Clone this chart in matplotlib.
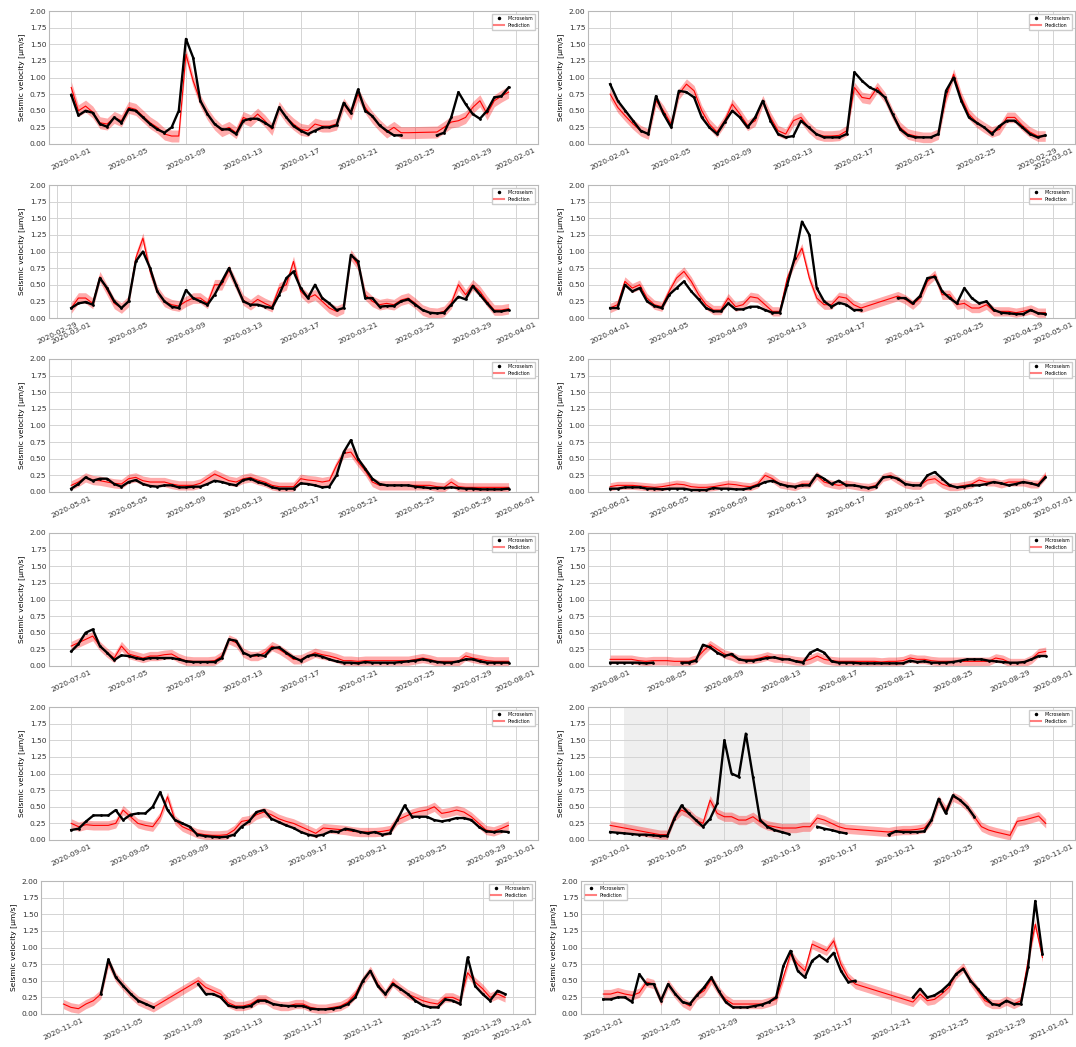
import numpy as np
import pandas as pd
import matplotlib
matplotlib.use('Agg')
import matplotlib.pyplot as plt
import matplotlib.dates as mdates
from matplotlib.lines import Line2D

nan = np.nan

# one panel per month, values every 12 hours starting at 00:00 on the 1st
months = ['2020-01', '2020-02', '2020-03', '2020-04', '2020-05', '2020-06',
          '2020-07', '2020-08', '2020-09', '2020-10', '2020-11', '2020-12']

jan_micro = [0.74, 0.43, 0.5, 0.47, 0.3, 0.26, 0.4, 0.32, 0.52, 0.5,
             0.4, 0.3, 0.22, 0.17, 0.25, 0.5, 1.58, 1.3, 0.65, 0.45,
             0.3, 0.22, 0.22, 0.15, 0.35, 0.38, 0.38, 0.32, 0.25, 0.55,
             0.4, 0.27, 0.2, 0.15, 0.2, 0.25, 0.25, 0.28, 0.62, 0.47,
             0.82, 0.5, 0.42, 0.28, 0.2, 0.13, 0.13, nan, nan, nan,
             nan, 0.13, 0.17, 0.4, 0.78, 0.6, 0.45, 0.38, 0.5, 0.7,
             0.72, 0.85]
jan_pred = [0.85, 0.5, 0.57, 0.48, 0.32, 0.3, 0.4, 0.35, 0.55, 0.52,
            0.42, 0.32, 0.25, 0.15, 0.12, 0.12, 1.35, 0.95, 0.65, 0.45,
            0.3, 0.2, 0.25, 0.17, 0.4, 0.35, 0.45, 0.35, 0.22, 0.55,
            0.4, 0.3, 0.22, 0.2, 0.3, 0.27, 0.27, 0.3, 0.6, 0.45,
            0.75, 0.55, 0.4, 0.28, 0.18, 0.25, 0.17, 0.17, nan, nan,
            nan, 0.18, 0.25, 0.33, 0.35, 0.4, 0.55, 0.65, 0.45, 0.65,
            0.72, 0.78]

feb_micro = [0.9, 0.65, 0.5, 0.35, 0.2, 0.15, 0.72, 0.45, 0.25, 0.8,
             0.78, 0.7, 0.4, 0.25, 0.15, 0.33, 0.5, 0.4, 0.25, 0.4,
             0.65, 0.35, 0.15, 0.1, 0.12, 0.35, 0.25, 0.15, 0.1, 0.1,
             0.1, 0.15, 1.08, 0.95, 0.85, 0.8, 0.7, 0.45, 0.22, 0.13,
             0.1, 0.1, 0.1, 0.15, 0.8, 1.0, 0.65, 0.4, 0.32, 0.25,
             0.15, 0.27, 0.35, 0.35, 0.25, 0.15, 0.1, 0.13]
feb_pred = [0.75, 0.55, 0.42, 0.3, 0.2, 0.15, 0.65, 0.5, 0.3, 0.75,
            0.9, 0.8, 0.5, 0.3, 0.18, 0.35, 0.6, 0.45, 0.28, 0.35,
            0.65, 0.4, 0.2, 0.15, 0.35, 0.4, 0.25, 0.15, 0.12, 0.12,
            0.13, 0.2, 0.85, 0.7, 0.68, 0.85, 0.7, 0.45, 0.25, 0.15,
            0.12, 0.1, 0.1, 0.15, 0.7, 1.05, 0.7, 0.45, 0.33, 0.25,
            0.18, 0.22, 0.4, 0.4, 0.28, 0.18, 0.12, 0.12]

mar_micro = [0.15, 0.22, 0.24, 0.2, 0.6, 0.45, 0.25, 0.15, 0.25, 0.85,
             1.0, 0.75, 0.4, 0.25, 0.17, 0.15, 0.42, 0.3, 0.25, 0.2,
             0.35, 0.55, 0.75, 0.5, 0.25, 0.2, 0.2, 0.17, 0.15, 0.35,
             0.6, 0.7, 0.45, 0.3, 0.5, 0.3, 0.22, 0.12, 0.15, 0.95,
             0.85, 0.3, 0.3, 0.17, 0.18, 0.18, 0.25, 0.28, 0.2, 0.12,
             0.08, 0.07, 0.08, 0.2, 0.32, 0.28, 0.48, 0.35, 0.22, 0.1,
             0.1, 0.12]
mar_pred = [0.15, 0.3, 0.3, 0.22, 0.62, 0.42, 0.22, 0.15, 0.25, 0.9,
            1.2, 0.7, 0.4, 0.25, 0.2, 0.18, 0.25, 0.3, 0.3, 0.22,
            0.5, 0.5, 0.72, 0.5, 0.27, 0.2, 0.28, 0.22, 0.17, 0.45,
            0.5, 0.85, 0.4, 0.3, 0.35, 0.25, 0.15, 0.1, 0.15, 0.95,
            0.8, 0.35, 0.25, 0.2, 0.22, 0.2, 0.27, 0.3, 0.22, 0.12,
            0.08, 0.07, 0.1, 0.22, 0.5, 0.35, 0.5, 0.4, 0.25, 0.12,
            0.12, 0.14]

apr_micro = [0.15, 0.15, 0.5, 0.4, 0.45, 0.25, 0.18, 0.15, 0.35, 0.45,
             0.55, 0.4, 0.28, 0.15, 0.1, 0.1, 0.22, 0.13, 0.13, 0.17,
             0.17, 0.12, 0.08, 0.08, 0.5, 0.9, 1.45, 1.25, 0.45, 0.25,
             0.17, 0.23, 0.2, 0.12, 0.12, nan, nan, nan, nan, 0.3,
             0.3, 0.22, 0.33, 0.6, 0.62, 0.4, 0.3, 0.22, 0.45, 0.3,
             0.22, 0.25, 0.12, 0.08, 0.07, 0.06, 0.06, 0.12, 0.07, 0.06]
apr_pred = [0.15, 0.2, 0.55, 0.45, 0.5, 0.3, 0.2, 0.17, 0.4, 0.6,
            0.7, 0.55, 0.35, 0.2, 0.12, 0.12, 0.3, 0.17, 0.2, 0.32,
            0.3, 0.2, 0.1, 0.1, 0.6, 0.85, 1.05, 0.6, 0.3, 0.2,
            0.2, 0.32, 0.3, 0.2, 0.15, nan, nan, nan, nan, 0.33,
            0.28, 0.2, 0.3, 0.55, 0.65, 0.35, 0.35, 0.2, 0.22, 0.15,
            0.15, 0.2, 0.1, 0.1, 0.1, 0.08, 0.1, 0.13, 0.08, 0.08]

may_micro = [0.05, 0.12, 0.22, 0.17, 0.2, 0.2, 0.12, 0.08, 0.15, 0.18,
             0.12, 0.09, 0.08, 0.1, 0.1, 0.07, 0.07, 0.08, 0.08, 0.12,
             0.17, 0.15, 0.12, 0.1, 0.18, 0.2, 0.15, 0.12, 0.07, 0.05,
             0.05, 0.05, 0.13, 0.12, 0.1, 0.07, 0.08, 0.25, 0.6, 0.78,
             0.5, 0.35, 0.2, 0.12, 0.1, 0.1, 0.1, 0.1, 0.08, 0.07,
             0.06, 0.06, 0.06, 0.07, 0.06, 0.05, 0.05, 0.04, 0.04, 0.04,
             0.04, 0.05]
may_pred = [0.1, 0.15, 0.22, 0.18, 0.17, 0.15, 0.13, 0.12, 0.2, 0.22,
            0.17, 0.15, 0.15, 0.15, 0.12, 0.1, 0.1, 0.1, 0.13, 0.2,
            0.27, 0.22, 0.17, 0.15, 0.2, 0.22, 0.18, 0.15, 0.1, 0.08,
            0.08, 0.08, 0.2, 0.18, 0.17, 0.15, 0.17, 0.4, 0.58, 0.6,
            0.45, 0.32, 0.15, 0.1, 0.1, 0.1, 0.1, 0.1, 0.1, 0.1,
            0.1, 0.08, 0.07, 0.15, 0.08, 0.07, 0.07, 0.07, 0.07, 0.07,
            0.07, 0.07]

jun_micro = [0.05, 0.05, 0.07, 0.07, 0.07, 0.05, 0.05, 0.04, 0.05, 0.05,
             0.05, 0.03, 0.03, 0.03, 0.06, 0.05, 0.05, 0.04, 0.04, 0.06,
             0.1, 0.15, 0.17, 0.12, 0.09, 0.08, 0.1, 0.1, 0.26, 0.2,
             0.12, 0.17, 0.1, 0.1, 0.08, 0.06, 0.08, 0.22, 0.23, 0.2,
             0.12, 0.1, 0.1, 0.25, 0.3, 0.2, 0.1, 0.07, 0.08, 0.1,
             0.1, 0.12, 0.15, 0.13, 0.1, 0.12, 0.15, 0.13, 0.1, 0.22]
jun_pred = [0.08, 0.1, 0.1, 0.1, 0.09, 0.08, 0.07, 0.08, 0.1, 0.12,
            0.11, 0.08, 0.07, 0.07, 0.08, 0.1, 0.12, 0.11, 0.09, 0.08,
            0.12, 0.25, 0.2, 0.12, 0.1, 0.08, 0.12, 0.12, 0.25, 0.15,
            0.12, 0.1, 0.12, 0.1, 0.08, 0.07, 0.1, 0.22, 0.25, 0.18,
            0.12, 0.1, 0.1, 0.18, 0.2, 0.12, 0.08, 0.08, 0.1, 0.12,
            0.18, 0.15, 0.15, 0.12, 0.15, 0.15, 0.15, 0.12, 0.12, 0.25]

jul_micro = [0.22, 0.33, 0.5, 0.55, 0.3, 0.2, 0.09, 0.16, 0.15, 0.12,
             0.1, 0.12, 0.12, 0.12, 0.12, 0.1, 0.07, 0.06, 0.06, 0.06,
             0.06, 0.12, 0.4, 0.38, 0.2, 0.15, 0.17, 0.15, 0.27, 0.28,
             0.2, 0.13, 0.08, 0.15, 0.17, 0.14, 0.1, 0.07, 0.05, 0.05,
             0.04, 0.06, 0.05, 0.05, 0.05, 0.05, 0.06, 0.07, 0.08, 0.1,
             0.08, 0.06, 0.05, 0.05, 0.07, 0.1, 0.1, 0.07, 0.05, 0.05,
             0.05, 0.05]
jul_pred = [0.3, 0.35, 0.4, 0.45, 0.3, 0.2, 0.12, 0.3, 0.18, 0.15,
            0.12, 0.15, 0.15, 0.17, 0.18, 0.12, 0.08, 0.07, 0.07, 0.07,
            0.08, 0.15, 0.4, 0.35, 0.2, 0.15, 0.15, 0.2, 0.3, 0.25,
            0.18, 0.1, 0.1, 0.15, 0.2, 0.17, 0.15, 0.12, 0.08, 0.08,
            0.07, 0.08, 0.08, 0.08, 0.08, 0.08, 0.08, 0.08, 0.1, 0.12,
            0.1, 0.07, 0.07, 0.07, 0.07, 0.15, 0.12, 0.1, 0.08, 0.07,
            0.07, 0.07]

aug_micro = [0.05, 0.05, 0.05, 0.05, 0.05, 0.04, 0.05, nan, nan, nan,
             0.05, 0.05, 0.08, 0.32, 0.28, 0.2, 0.15, 0.18, 0.1, 0.08,
             0.08, 0.1, 0.12, 0.13, 0.1, 0.1, 0.07, 0.05, 0.2, 0.25,
             0.2, 0.07, 0.05, 0.05, 0.05, 0.04, 0.04, 0.04, 0.04, 0.04,
             0.04, 0.04, 0.08, 0.06, 0.07, 0.05, 0.05, 0.05, 0.06, 0.08,
             0.1, 0.1, 0.1, 0.08, 0.07, 0.06, 0.05, 0.05, 0.06, 0.1,
             0.15, 0.15]
aug_pred = [0.1, 0.1, 0.1, 0.1, 0.08, 0.07, 0.08, 0.08, 0.08, 0.07,
            0.07, 0.07, 0.1, 0.22, 0.32, 0.25, 0.18, 0.15, 0.1, 0.1,
            0.1, 0.12, 0.15, 0.12, 0.12, 0.1, 0.08, 0.07, 0.1, 0.15,
            0.1, 0.08, 0.07, 0.07, 0.07, 0.07, 0.07, 0.07, 0.06, 0.07,
            0.07, 0.08, 0.12, 0.1, 0.1, 0.08, 0.07, 0.07, 0.07, 0.07,
            0.07, 0.07, 0.07, 0.07, 0.12, 0.1, 0.05, 0.05, 0.05, 0.1,
            0.2, 0.22]

sep_micro = [0.15, 0.17, 0.28, 0.37, 0.37, 0.37, 0.45, 0.3, 0.38, 0.4,
             0.4, 0.5, 0.72, 0.45, 0.3, 0.25, 0.2, 0.08, 0.06, 0.05,
             0.04, 0.05, 0.08, 0.2, 0.28, 0.42, 0.45, 0.32, 0.27, 0.22,
             0.18, 0.12, 0.08, 0.06, 0.08, 0.13, 0.12, 0.17, 0.15, 0.12,
             0.1, 0.12, 0.08, 0.1, 0.3, 0.52, 0.35, 0.35, 0.35, 0.3,
             0.28, 0.3, 0.33, 0.33, 0.3, 0.2, 0.13, 0.12, 0.13, 0.12]
sep_pred = [0.25, 0.2, 0.23, 0.22, 0.22, 0.22, 0.25, 0.45, 0.35, 0.25,
            0.22, 0.2, 0.35, 0.65, 0.3, 0.2, 0.15, 0.1, 0.08, 0.07,
            0.07, 0.08, 0.15, 0.28, 0.3, 0.38, 0.42, 0.38, 0.32, 0.28,
            0.25, 0.2, 0.15, 0.1, 0.18, 0.17, 0.16, 0.15, 0.13, 0.12,
            0.12, 0.12, 0.13, 0.15, 0.3, 0.35, 0.4, 0.43, 0.45, 0.5,
            0.4, 0.42, 0.45, 0.42, 0.35, 0.25, 0.15, 0.13, 0.17, 0.22]

oct_micro = [0.12, 0.11, 0.1, 0.09, 0.08, 0.08, 0.07, 0.06, 0.06, 0.32,
             0.52, 0.4, 0.3, 0.2, 0.32, 0.55, 1.5, 1.0, 0.95, 1.6,
             0.95, 0.3, 0.2, 0.15, 0.12, 0.09, nan, nan, nan, 0.2,
             0.17, 0.15, 0.12, 0.1, nan, nan, nan, nan, nan, 0.08,
             0.13, 0.12, 0.12, 0.12, 0.13, 0.3, 0.62, 0.4, 0.67, 0.6,
             0.5, 0.35, nan, nan, nan, nan, nan, nan, nan, nan,
             nan, nan]
oct_pred = [0.22, 0.2, 0.18, 0.16, 0.14, 0.12, 0.1, 0.08, 0.08, 0.35,
            0.45, 0.4, 0.3, 0.25, 0.6, 0.4, 0.35, 0.35, 0.3, 0.3,
            0.35, 0.27, 0.22, 0.2, 0.18, 0.18, 0.18, 0.2, 0.2, 0.33,
            0.3, 0.25, 0.2, 0.17, nan, nan, nan, nan, nan, 0.12,
            0.14, 0.15, 0.15, 0.16, 0.18, 0.3, 0.6, 0.45, 0.65, 0.6,
            0.5, 0.35, 0.2, 0.15, 0.12, nan, 0.07, 0.28, 0.3, 0.33,
            0.36, 0.25]

nov_micro = [nan, nan, nan, nan, nan, 0.3, 0.82, 0.55, 0.42, 0.3,
             0.2, 0.15, 0.1, nan, nan, nan, nan, nan, 0.45, 0.3,
             0.3, 0.25, 0.13, 0.1, 0.1, 0.12, 0.2, 0.2, 0.15, 0.13,
             0.12, 0.12, 0.12, 0.08, 0.07, 0.07, 0.08, 0.1, 0.15, 0.25,
             0.5, 0.65, 0.42, 0.3, 0.45, 0.38, 0.3, 0.2, 0.13, 0.1,
             0.1, 0.22, 0.2, 0.15, 0.85, 0.42, 0.3, 0.2, 0.35, 0.3]
nov_pred = [0.15, 0.1, 0.08, 0.15, 0.2, 0.3, 0.78, 0.55, 0.42, 0.3,
            0.2, 0.15, 0.1, nan, nan, nan, nan, nan, 0.5, 0.4,
            0.35, 0.3, 0.17, 0.12, 0.12, 0.15, 0.22, 0.22, 0.15, 0.12,
            0.12, 0.15, 0.15, 0.1, 0.08, 0.08, 0.1, 0.12, 0.18, 0.3,
            0.5, 0.65, 0.45, 0.3, 0.48, 0.38, 0.3, 0.25, 0.2, 0.17,
            0.15, 0.25, 0.25, 0.2, 0.62, 0.48, 0.38, 0.25, 0.3, 0.25]

dec_micro = [0.22, 0.22, 0.25, 0.25, 0.18, 0.6, 0.45, 0.45, 0.2, 0.45,
             0.3, 0.18, 0.15, 0.28, 0.4, 0.55, 0.35, 0.18, 0.1, 0.1,
             0.1, 0.12, 0.14, 0.18, 0.25, 0.72, 0.95, 0.65, 0.55, 0.8,
             0.88, 0.8, 0.92, 0.65, 0.48, 0.5, nan, nan, nan, nan,
             nan, nan, nan, 0.25, 0.38, 0.25, 0.28, 0.35, 0.45, 0.6,
             0.68, 0.5, 0.38, 0.25, 0.15, 0.13, 0.2, 0.15, 0.15, 0.7,
             1.7, 0.9]
dec_pred = [0.3, 0.3, 0.33, 0.3, 0.28, 0.32, 0.48, 0.45, 0.2, 0.45,
            0.3, 0.18, 0.12, 0.28, 0.35, 0.52, 0.35, 0.22, 0.15, 0.15,
            0.15, 0.15, 0.15, 0.18, 0.22, 0.55, 0.9, 0.75, 0.65, 1.05,
            1.0, 0.95, 1.1, 0.75, 0.55, 0.45, nan, nan, nan, nan,
            nan, nan, nan, 0.18, 0.3, 0.2, 0.22, 0.3, 0.4, 0.6,
            0.7, 0.5, 0.35, 0.2, 0.15, 0.15, 0.2, 0.15, 0.2, 0.8,
            1.35, 0.85]

# half width of the prediction band, per month
band = [0.09, 0.08, 0.08, 0.07, 0.07, 0.06, 0.07, 0.065, 0.07, 0.07, 0.07, 0.07]

# shaded period in October
shade_start, shade_end = '2020-10-02', '2020-10-15'

micro = [jan_micro, feb_micro, mar_micro, apr_micro, may_micro, jun_micro,
         jul_micro, aug_micro, sep_micro, oct_micro, nov_micro, dec_micro]
pred = [jan_pred, feb_pred, mar_pred, apr_pred, may_pred, jun_pred,
        jul_pred, aug_pred, sep_pred, oct_pred, nov_pred, dec_pred]

plt.rcParams.update({
    'font.family': 'DejaVu Sans',
    'font.size': 5.4,
    'axes.edgecolor': '#b8b8b8',
    'axes.linewidth': 0.8,
    'grid.color': '#d4d4d4',
    'grid.linewidth': 0.7,
    'xtick.color': '#333333',
    'ytick.color': '#333333',
    'xtick.major.size': 0,
    'ytick.major.size': 0,
    'xtick.major.pad': 2,
    'ytick.major.pad': 2,
})

W, H = 1076, 1047
fig = plt.figure(figsize=(W / 100, H / 100), dpi=100)

tops = [11, 185, 359, 533, 707, 881]
ax_h = 133

for i, m in enumerate(months):
    row, col = divmod(i, 2)
    if row < 5:
        x0, x1 = (49, 538) if col == 0 else (588, 1075)
    else:
        x0, x1 = (41, 535) if col == 0 else (581, 1072)
    ax = fig.add_axes([x0 / W, 1 - (tops[row] + ax_h) / H, (x1 - x0) / W, ax_h / H])

    start = pd.Timestamp(m + '-01')
    end = start + pd.offsets.MonthBegin(1)
    ndays = (end - start).days
    t = pd.date_range(start, periods=len(micro[i]), freq='12h')

    p = pd.Series(pred[i], index=t).dropna()
    ax.fill_between(p.index, p.values - band[i], p.values + band[i],
                    color='red', alpha=0.33, lw=0)
    ax.plot(p.index, p.values, color='red', lw=0.8)
    ax.plot(t, micro[i], color='black', lw=1.7, marker='o', ms=2.0, mew=0)

    if m == '2020-10':
        ax.axvspan(pd.Timestamp(shade_start), pd.Timestamp(shade_end),
                   color='#efefef', zorder=0, lw=0)

    margin = pd.Timedelta(days=0.05 * ndays)
    ax.set_xlim(start - margin, end + margin)
    ax.set_ylim(0, 2)
    ax.set_yticks(np.arange(0, 2.01, 0.25))
    ax.xaxis.set_major_locator(mdates.DayLocator(bymonthday=[1, 5, 9, 13, 17, 21, 25, 29]))
    ax.xaxis.set_major_formatter(mdates.DateFormatter('%Y-%m-%d'))
    ax.grid(True)
    ax.set_axisbelow(True)
    for lab in ax.get_xticklabels():
        lab.set_rotation(25)
    ax.set_ylabel('Seismic velocity [μm/s]', labelpad=3)

    handles = [Line2D([], [], color='black', marker='o', ms=1.5, ls=''),
               Line2D([], [], color='red', alpha=0.5, lw=1.5)]
    ax.legend(handles, ['Microseism', 'Prediction'],
              loc='upper left' if m == '2020-12' else 'upper right',
              fontsize=3.3, borderaxespad=0.6, handlelength=2.2,
              framealpha=1, edgecolor='#cccccc', fancybox=False)

fig.savefig('out.png', dpi=100)
